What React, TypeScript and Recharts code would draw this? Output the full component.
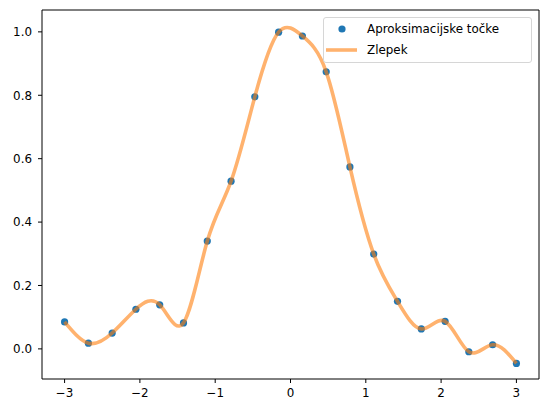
import { ComposedChart, Line, Scatter, XAxis, YAxis, ReferenceLine } from "recharts";

const xs = [
  -3, -2.684, -2.368, -2.053, -1.737, -1.421, -1.105, -0.789, -0.474, -0.158,
  0.158, 0.474, 0.789, 1.105, 1.421, 1.737, 2.053, 2.368, 2.684, 3,
];
const ys = [
  0.085, 0.018, 0.05, 0.125, 0.139, 0.082, 0.34, 0.529, 0.795, 0.999,
  0.987, 0.874, 0.574, 0.299, 0.15, 0.063, 0.087, -0.009, 0.013, -0.046,
];
const xTicks = [-3, -2, -1, 0, 1, 2, 3];
const yTicks = [0, 0.2, 0.4, 0.6, 0.8, 1.0];
const xDomain = [-3.3, 3.3];
const yDomain = [-0.095, 1.069];

const data = xs.map((x, i) => ({ x, y: ys[i] }));

const font = "DejaVu Sans, sans-serif";
const tickStyle = { fontSize: 11.9, fill: "#000", fontFamily: font };

const fmtX = (v: number) => (v < 0 ? "\u2212" + Math.abs(v) : String(v));
const fmtY = (v: number) => v.toFixed(1);

function LegendBox() {
  return (
    <div
      style={{
        position: "absolute",
        left: 323,
        top: 17,
        width: 209,
        height: 46,
        boxSizing: "border-box",
        border: "1px solid #d6d6d6",
        borderRadius: 3,
        background: "rgba(255,255,255,0.8)",
      }}
    >
      <svg width={209} height={46} style={{ position: "absolute", left: -1, top: -1 }}>
        <circle cx={19} cy={12} r={3.6} fill="#1f77b4" />
        <line x1={3} y1={33} x2={34} y2={33} stroke="#ff7f0e" strokeOpacity={0.6} strokeWidth={3.6} />
        <text x={44} y={16.2} fontSize={11.9} fontFamily={font}>Aproksimacijske točke</text>
        <text x={44} y={37.2} fontSize={11.9} fontFamily={font}>Zlepek</text>
      </svg>
    </div>
  );
}

export default function App() {
  const extra: any = { zIndex: 900 };
  return (
    <div style={{ position: "absolute", left: 0, top: 0, width: 547, height: 413, background: "#fff" }}>
      <ComposedChart
        width={547}
        height={413}
        data={data}
        margin={{ top: 10, right: 8, left: 0, bottom: 0 }}
      >
        <XAxis
          type="number"
          dataKey="x"
          domain={xDomain}
          ticks={xTicks}
          tickFormatter={fmtX}
          tick={tickStyle}
          tickSize={4}
          tickMargin={6}
          height={34}
          stroke="#000"
          allowDataOverflow
        />
        <YAxis
          type="number"
          domain={yDomain}
          ticks={yTicks}
          tickFormatter={fmtY}
          tick={tickStyle}
          tickSize={4}
          tickMargin={6}
          width={42}
          stroke="#000"
          allowDataOverflow
        />
        <ReferenceLine x={xDomain[1]} stroke="#000" strokeWidth={1} />
        <ReferenceLine y={yDomain[1]} stroke="#000" strokeWidth={1} />
        {/* points first, spline over them */}
        <Scatter
          dataKey="y"
          fill="#1f77b4"
          shape={(p: any) => <circle cx={p.cx} cy={p.cy} r={3.6} fill="#1f77b4" />}
          isAnimationActive={false}
        />
        <Line
          {...extra}
          type="natural"
          dataKey="y"
          stroke="#ff7f0e"
          strokeOpacity={0.6}
          strokeWidth={3.6}
          dot={false}
          activeDot={false}
          isAnimationActive={false}
        />
      </ComposedChart>
      <LegendBox />
    </div>
  );
}
